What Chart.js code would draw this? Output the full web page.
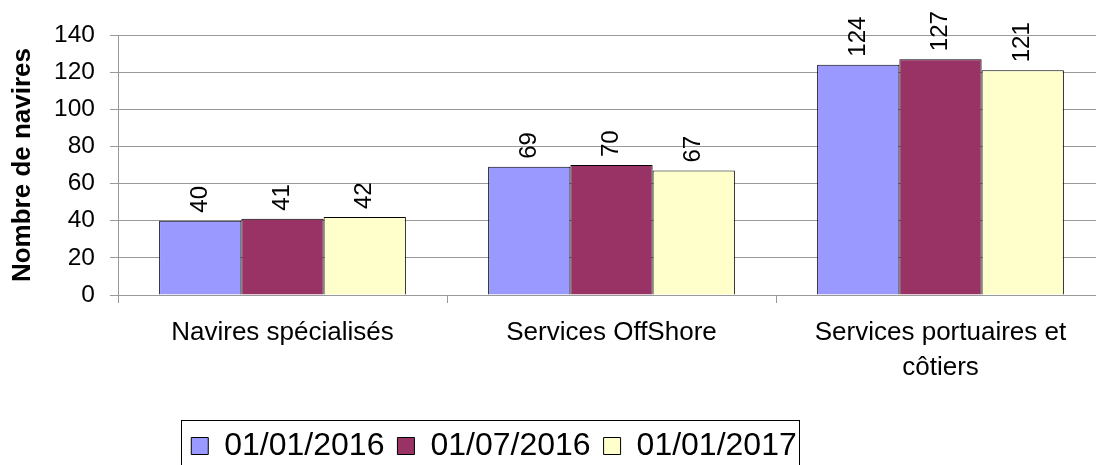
<!DOCTYPE html>
<html>
<head>
<meta charset="utf-8">
<script src="https://cdn.jsdelivr.net/npm/chart.js@4.4.0/dist/chart.umd.min.js"></script>
<style>
  html, body { margin: 0; padding: 0; background: #fff; overflow: hidden; }
  canvas { display: block; }
</style>
</head>
<body>
<canvas id="chart" width="1105" height="465"></canvas>
<script>
// Données du graphique
const categories = ['Navires spécialisés', 'Services OffShore', ['Services portuaires et', 'côtiers']];
const seriesLabels = ['01/01/2016', '01/07/2016', '01/01/2017'];
const jan2016 = [40, 69, 124];
const jul2016 = [41, 70, 127];
const jan2017 = [42, 67, 121];
const yTicks = [0, 20, 40, 60, 80, 100, 120, 140];

const FONT = '"Liberation Sans", Arial, sans-serif';
const colors = ['#9999FF', '#993366', '#FFFFCC'];

// Valeurs écrites verticalement au-dessus des barres
const valueLabels = {
    id: 'valueLabels',
    afterDatasetsDraw(chart) {
        const ctx = chart.ctx;
        ctx.save();
        ctx.font = '24px ' + FONT;
        ctx.fillStyle = '#000';
        ctx.textAlign = 'left';
        ctx.textBaseline = 'middle';
        chart.data.datasets.forEach((ds, i) => {
            chart.getDatasetMeta(i).data.forEach((bar, j) => {
                ctx.save();
                ctx.translate(bar.x, bar.y - 8);
                ctx.rotate(-Math.PI / 2);
                ctx.fillText(ds.data[j], 0, 0);
                ctx.restore();
            });
        });
        ctx.restore();
    }
};

// Légende encadrée, décalée vers la gauche
const legendFrame = {
    id: 'legendFrame',
    afterLayout(chart) {
        const lg = chart.legend;
        lg.left = 168; lg.right = 820; lg.width = 652;
        lg.top = 417; lg.bottom = 477; lg.height = 60;
    },
    afterDraw(chart) {
        const ctx = chart.ctx;
        ctx.save();
        ctx.strokeStyle = '#000';
        ctx.lineWidth = 1;
        ctx.strokeRect(181.5, 420.5, 618, 60);
        ctx.restore();
    }
};

const datasets = [jan2016, jul2016, jan2017].map((values, i) => ({
    label: seriesLabels[i],
    data: values,
    backgroundColor: colors[i],
    borderColor: '#000',
    borderWidth: 1,
    categoryPercentage: 0.75,
    barPercentage: 1
}));

new Chart(document.getElementById('chart'), {
    type: 'bar',
    data: { labels: categories, datasets: datasets },
    plugins: [valueLabels, legendFrame],
    options: {
        responsive: false,
        animation: false,
        layout: { padding: { top: 35, left: 0, right: 0, bottom: 0 } },
        plugins: {
            tooltip: { enabled: false },
            legend: {
                position: 'bottom',
                maxHeight: 50,
                labels: {
                    font: { family: FONT, size: 32 },
                    color: '#000',
                    boxWidth: 17,
                    boxHeight: 17,
                    padding: 13
                }
            }
        },
        scales: {
            x: {
                afterFit(scale) { scale.height = 120; },
                grid: {
                    offset: true,
                    drawOnChartArea: false,
                    color: '#999',
                    tickLength: 8
                },
                border: { color: '#999' },
                ticks: {
                    font: { family: FONT, size: 26, lineHeight: 1.35 },
                    color: '#000',
                    padding: 12,
                    maxRotation: 0,
                    autoSkip: false
                }
            },
            y: {
                min: yTicks[0],
                max: yTicks[yTicks.length - 1],
                afterFit(scale) { scale.width = 118; },
                afterBuildTicks(scale) { scale.ticks = yTicks.map(v => ({ value: v })); },
                grid: { color: '#999', tickLength: 8 },
                border: { color: '#999' },
                ticks: {
                    font: { family: FONT, size: 24.5 },
                    color: '#000',
                    padding: 15
                },
                title: {
                    display: true,
                    text: 'Nombre de navires',
                    color: '#000',
                    font: { family: FONT, size: 26, weight: 'bold' },
                    padding: { top: 7, bottom: 0 }
                }
            }
        }
    }
});
</script>
</body>
</html>
